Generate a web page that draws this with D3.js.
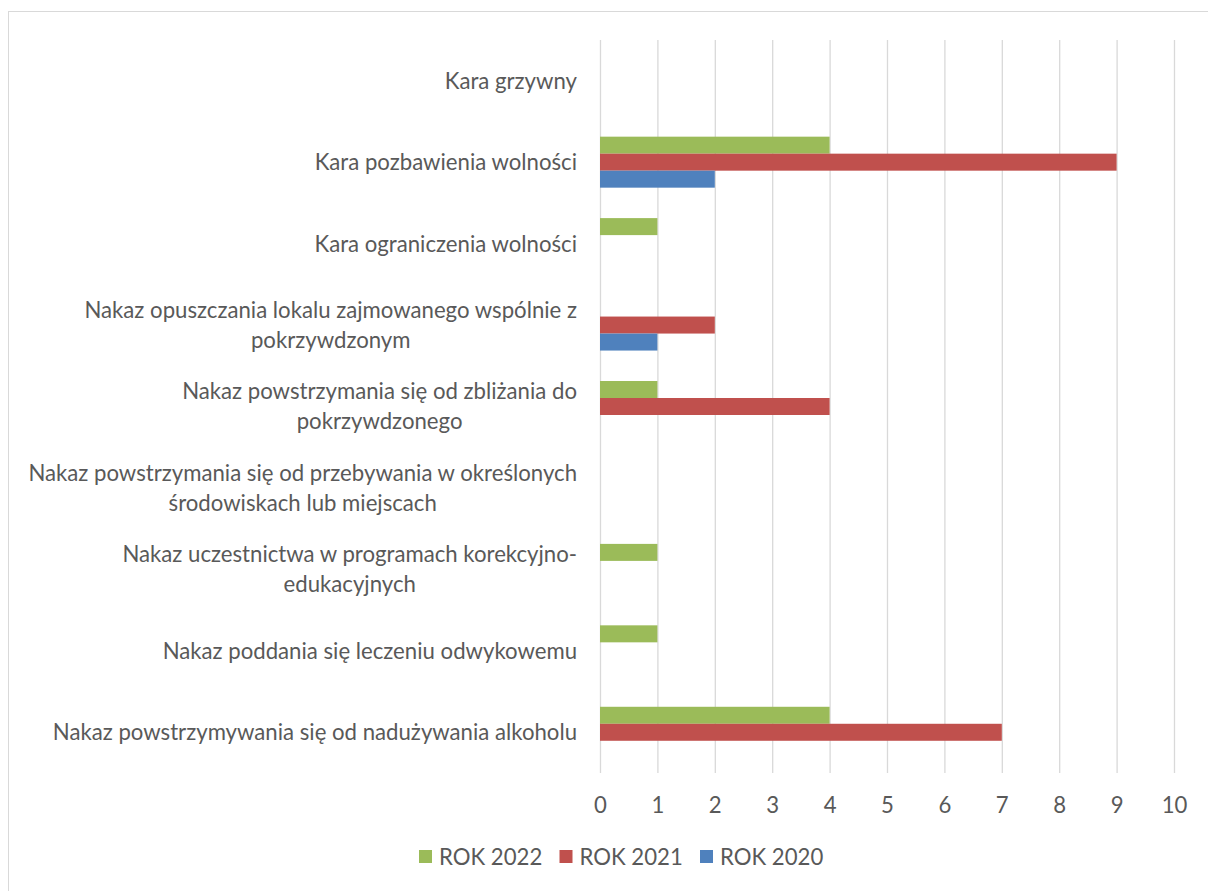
<!DOCTYPE html>
<html>
<head>
<meta charset="utf-8">
<script src="https://cdn.jsdelivr.net/npm/d3@7"></script>
<style>
  body { margin: 0; background: #fff; }
  text { font-family: Lato, "Open Sans", sans-serif; fill: #595959; }
</style>
</head>
<body>
<div id="chart"></div>
<script>
'use strict';
// categories, top to bottom ("\n" marks where the label wraps)
var categories = [
    "Kara grzywny",
    "Kara pozbawienia wolności",
    "Kara ograniczenia wolności",
    "Nakaz opuszczania lokalu zajmowanego wspólnie z\npokrzywdzonym",
    "Nakaz powstrzymania się od zbliżania do\npokrzywdzonego",
    "Nakaz powstrzymania się od przebywania w określonych\nśrodowiskach lub miejscach",
    "Nakaz uczestnictwa w programach korekcyjno-\nedukacyjnych",
    "Nakaz poddania się leczeniu odwykowemu",
    "Nakaz powstrzymywania się od nadużywania alkoholu"
];
var years = ["ROK 2022", "ROK 2021", "ROK 2020"];
var rok2022 = [0, 4, 1, 0, 1, 0, 1, 1, 4];
var rok2021 = [0, 9, 0, 2, 4, 0, 0, 0, 7];
var rok2020 = [0, 2, 0, 1, 0, 0, 0, 0, 0];
var colors = ["#9BBB59", "#C0504D", "#4F81BD"];
var xTicks = [0, 1, 2, 3, 4, 5, 6, 7, 8, 9, 10];

var W = 1208, H = 891;
var plot = { left: 600, right: 1174, top: 40, bottom: 773 };

var svg = d3.select("#chart").append("svg")
    .attr("width", W)
    .attr("height", H);

svg.append("rect").attr("width", W).attr("height", H).attr("fill", "#fff");

// chart area border (right and bottom fall outside the picture)
svg.append("rect")
    .attr("x", 8.5).attr("y", 11.5)
    .attr("width", W + 20).attr("height", H + 20)
    .attr("fill", "none")
    .attr("stroke", "#d9d9d9");

// pick a font size so the widest label spans about as much as in the original
var probe = svg.append("text").style("font-size", "24px")
    .text("Nakaz powstrzymania się od przebywania w określonych");
var fs = 24 * 549 / probe.node().getComputedTextLength();
probe.remove();

var x = d3.scaleLinear()
    .domain([0, 10])
    .range([plot.left, plot.right]);

var y0 = d3.scaleBand()
    .domain(categories)
    .range([plot.top, plot.bottom]);

var groupH = 51;
var y1 = d3.scaleBand()
    .domain(years)
    .range([0, groupH]);

// gridlines + tick labels
var xAxis = svg.append("g")
    .attr("transform", "translate(0," + plot.bottom + ")")
    .call(d3.axisBottom(x)
        .tickValues(xTicks)
        .tickSize(-(plot.bottom - plot.top))
        .tickFormat(d3.format("d")));
xAxis.select(".domain").remove();
xAxis.selectAll("line").attr("stroke", "#d9d9d9").attr("stroke-width", 1.3);
xAxis.selectAll("text")
    .attr("y", 32)
    .attr("dy", "0.36em")
    .attr("fill", "#595959")
    .style("font-size", fs + "px")
    .style("font-family", "Lato, 'Open Sans', sans-serif");

// bars
var series = [rok2022, rok2021, rok2020];
var offset = (y0.bandwidth() - groupH) / 2;
series.forEach(function (vals, s) {
    svg.append("g").selectAll("rect")
        .data(vals)
        .enter().append("rect")
        .attr("x", x(0))
        .attr("y", function (d, i) { return y0(categories[i]) + offset + y1(years[s]); })
        .attr("width", function (d) { return x(d) - x(0); })
        .attr("height", y1.bandwidth())
        .attr("fill", colors[s]);
});

// category labels: block right aligned, wrapped lines centred inside it
var labelRight = 577, lineH = 30;
categories.forEach(function (c) {
    var lines = c.split("\n");
    var cy = y0(c) + y0.bandwidth() / 2;
    var t = svg.append("text")
        .attr("text-anchor", "middle")
        .style("font-size", fs + "px");
    lines.forEach(function (l, i) {
        t.append("tspan")
            .attr("y", cy + (i - (lines.length - 1) / 2) * lineH)
            .attr("dy", "0.36em")
            .text(l);
    });
    var maxW = d3.max(t.selectAll("tspan").nodes(), function (n) { return n.getComputedTextLength(); });
    t.selectAll("tspan").attr("x", labelRight - maxW / 2);
});

// legend
var legend = svg.append("g").attr("transform", "translate(419,857)");
years.forEach(function (yr, i) {
    var g = legend.append("g").attr("transform", "translate(" + (i * 140.5) + ",0)");
    g.append("rect")
        .attr("x", 0).attr("y", -7)
        .attr("width", 13).attr("height", 13)
        .attr("fill", colors[i]);
    g.append("text")
        .attr("x", 20)
        .attr("dy", "0.36em")
        .style("font-size", fs + "px")
        .text(yr);
});
</script>
</body>
</html>
